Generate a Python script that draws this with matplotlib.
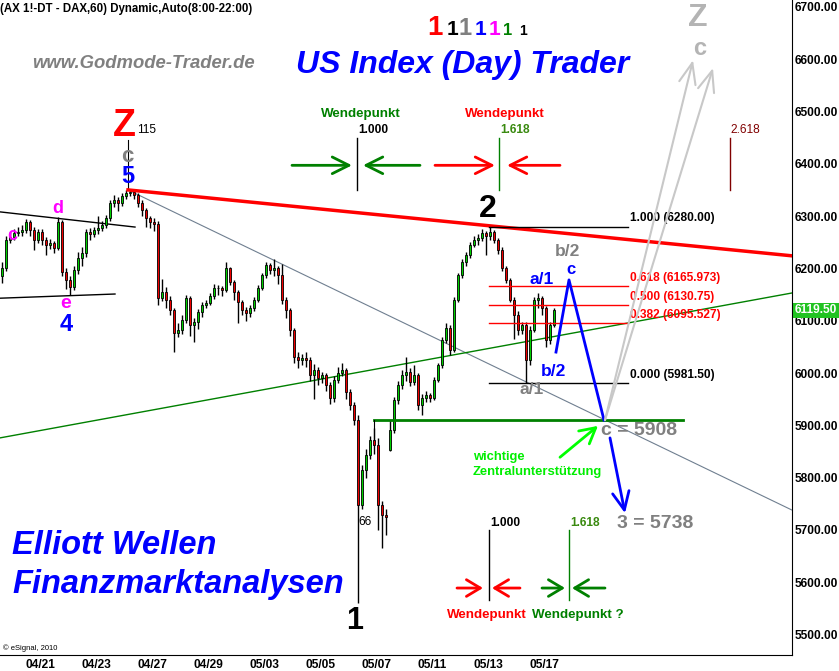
import numpy as np
import matplotlib
matplotlib.use("Agg")
import matplotlib.pyplot as plt

plt.rcParams['font.family'] = ['Liberation Sans', 'DejaVu Sans']

# 2-Stunden-Kerzen (7 pro Handelstag, 8:00-22:00), 19.04. - 17.05.2010
closes = [6200, 6255, 6260, 6268, 6270, 6273, 6289,
          6273, 6254, 6270, 6254, 6245, 6248, 6239,
          6289, 6193, 6178, 6164, 6197, 6220, 6229,
          6270, 6266, 6273, 6277, 6283, 6296, 6325,
          6331, 6325, 6338, 6344, 6346, 6340, 6325,
          6311, 6296, 6289, 6285, 6143, 6155, 6140,
          6120, 6076, 6082, 6101, 6143, 6092, 6097,
          6117, 6130, 6134, 6147, 6162, 6162, 6159,
          6200, 6174, 6155, 6136, 6120, 6115, 6124,
          6140, 6162, 6187, 6206, 6197, 6200, 6187,
          6140, 6120, 6082, 6031, 6025, 6029, 6025,
          5996, 6006, 5990, 5996, 5977, 5952, 5987,
          6000, 6006, 5964, 5939, 5910, 5748, 5815,
          5843, 5872, 5862, 5748, 5729, 5725, 5891,
          5948, 5977, 5996, 6002, 5983, 5996, 5939,
          5952, 5958, 5952, 5987, 6015, 6063, 6086,
          6044, 6140, 6187, 6212, 6225, 6245, 6254,
          6258, 6268, 6262, 6270, 6254, 6235, 6200,
          6178, 6140, 6111, 6082, 6092, 6025, 6082,
          6140, 6143, 6124, 6063, 6092, 6120]
highs = [6212, 6262, 6270, 6276, 6280, 6282, 6295,
         6292, 6280, 6276, 6275, 6260, 6256, 6252,
         6298, 6292, 6200, 6185, 6205, 6232, 6240,
         6276, 6278, 6280, 6300, 6290, 6302, 6330,
         6340, 6336, 6345, 6350, 6352, 6350, 6345,
         6330, 6315, 6300, 6296, 6290, 6180, 6165,
         6148, 6125, 6095, 6110, 6150, 6148, 6105,
         6122, 6136, 6140, 6152, 6170, 6168, 6166,
         6212, 6203, 6178, 6158, 6140, 6126, 6130,
         6146, 6168, 6192, 6212, 6210, 6218, 6204,
         6208, 6146, 6125, 6086, 6040, 6036, 6040,
         6030, 6018, 6012, 6002, 6000, 5982, 5995,
         6012, 6020, 6010, 5970, 5945, 5920, 5825,
         5855, 5880, 5895, 5875, 5755, 5740, 5910,
         5955, 5985, 6005, 6030, 6010, 6015, 6000,
         5960, 5966, 5962, 5992, 6020, 6068, 6095,
         6092, 6145, 6192, 6218, 6232, 6250, 6262,
         6266, 6275, 6272, 6280, 6274, 6258, 6240,
         6205, 6182, 6145, 6118, 6098, 6098, 6090,
         6145, 6153, 6148, 6128, 6098, 6125]
lows = [6172, 6195, 6248, 6255, 6262, 6262, 6268,
        6262, 6235, 6248, 6245, 6225, 6238, 6230,
        6235, 6185, 6160, 6150, 6158, 6190, 6205,
        6222, 6255, 6260, 6266, 6272, 6278, 6290,
        6318, 6310, 6320, 6332, 6338, 6332, 6318,
        6300, 6280, 6278, 6272, 6130, 6138, 6125,
        6110, 6040, 6068, 6075, 6095, 6070, 6060,
        6085, 6108, 6124, 6130, 6142, 6150, 6148,
        6155, 6168, 6140, 6095, 6110, 6100, 6108,
        6118, 6135, 6158, 6182, 6190, 6186, 6170,
        6132, 6105, 6070, 6020, 6010, 6015, 6012,
        5985, 5950, 5978, 5980, 5965, 5940, 5945,
        5980, 5995, 5950, 5930, 5900, 5560, 5740,
        5800, 5835, 5845, 5700, 5666, 5690, 5850,
        5885, 5940, 5970, 5985, 5975, 5978, 5930,
        5920, 5945, 5944, 5948, 5982, 6010, 6058,
        6035, 6040, 6135, 6182, 6205, 6220, 6240,
        6245, 6252, 6225, 6255, 6248, 6228, 6195,
        6172, 6135, 6065, 6072, 6075, 5981, 6015,
        6078, 6125, 6110, 6050, 6055, 6088]
first_open = 6185
gap_opens = {97: 5853}   # Eroeffnungsluecke 10.05.

date_labels = ["04/21", "04/23", "04/27", "04/29", "05/03",
               "05/05", "05/07", "05/11", "05/13", "05/17"]
date_pos = [10, 24, 38, 52, 66, 80, 94, 108, 122, 136]
y_ticks = [5500, 5600, 5700, 5800, 5900, 6000, 6100, 6200, 6300, 6400, 6500, 6600, 6700]
last_price = 6119.50

fib_high = 6280.00
fib_low = 5981.50
fib_levels = [1.000, 0.618, 0.500, 0.382, 0.000]

W, H = 839, 671
fig = plt.figure(figsize=(W / 100, H / 100), dpi=100)
ax = fig.add_axes([0, 16 / H, 792 / W, 655 / H])
ax.set_xlim(0, 198)
ax.set_ylim(5461, 6713)

# Kerzen
x = np.arange(len(closes)) + 0.5
opens = [first_open] + closes[:-1]
for i, o in gap_opens.items():
    opens[i] = o
o_arr = np.array(opens, dtype=float)
c_arr = np.array(closes, dtype=float)
up = c_arr >= o_arr
ax.vlines(x, lows, highs, color='black', lw=1.0, zorder=4)
ax.bar(x, c_arr - o_arr, bottom=o_arr, width=0.72,
       color=np.where(up, '#00d000', '#f00000'), edgecolor='black', lw=0.6, zorder=5)

# Trendlinien
ax.plot([32, 198], [6350, 6224], color='#ff0000', lw=2.5, zorder=6)
ax.plot([32, 198], [6350, 5738], color='#6f7f90', lw=0.8, zorder=3)
ax.plot([0, 198], [5876, 6153], color='#008000', lw=1, zorder=3)
ax.plot([0, 33.75], [6308, 6279], color='black', lw=1, zorder=3)
ax.plot([0, 28.75], [6143, 6151], color='black', lw=1, zorder=3)
ax.plot([93.5, 170.75], [5910, 5910], color='#008000', lw=2, zorder=6)
ax.plot([93.5, 93.5], [5910, 5872], color='black', lw=0.8, zorder=6)
ax.plot([32, 32], [6350, 6445], color='black', lw=0.8, zorder=3)

# Fibonacci-Retracement
for lev in fib_levels:
    p = fib_low + lev * (fib_high - fib_low)
    col = 'black' if lev in (0.0, 1.0) else '#ff0000'
    ax.plot([122.25, 157], [p, p], color=col, lw=1, zorder=6)
    s = f"{p:.3f}"
    if s.endswith('0'):
        s = s[:-1]
    ax.text(157.5, p + 4, f"{lev:.3f} ({s})", color=col, fontsize=8.6,
            fontweight='bold', ha='left', va='bottom', zorder=7)


def arrow(tail, tip, color, lw=2, hl=0.6, hw=0.3):
    ax.annotate('', xy=tip, xytext=tail,
                arrowprops=dict(arrowstyle=f'->,head_length={hl},head_width={hw}',
                                color=color, lw=lw, shrinkA=0, shrinkB=0,
                                mutation_scale=20), zorder=8)


def label(xv, yv, s, size, color, ha='center', va='center', weight='bold'):
    ax.text(xv, yv, s, fontsize=size, color=color, fontweight=weight,
            ha=ha, va=va, zorder=9)


# Wendepunkte oben
ax.plot([89.25, 89.25], [6350, 6449], color='black', lw=1)
ax.plot([124.75, 124.75], [6350, 6449], color='#008000', lw=1)
ax.plot([182.5, 182.5], [6350, 6449], color='#800000', lw=1)
arrow((73, 6397), (88, 6397), '#008000')
arrow((105, 6397), (90.75, 6397), '#008000')
arrow((108.75, 6397), (123.75, 6397), '#ff0000')
arrow((140, 6397), (126.75, 6397), '#ff0000')
label(90.25, 6495, "Wendepunkt", 9.6, '#008000')
label(126.25, 6495, "Wendepunkt", 9.6, '#ff0000')
label(89.5, 6464, "1.000", 8.6, 'black', ha='left')
label(125, 6464, "1.618", 8.6, '#3a8a10', ha='left')
label(182.7, 6464, "2.618", 8.6, '#800000', ha='left', weight='normal')

# Wendepunkte unten
ax.plot([122.25, 122.25], [5566, 5700], color='black', lw=1)
ax.plot([142.25, 142.25], [5566, 5700], color='#008000', lw=1)
arrow((114.25, 5589), (120.75, 5589), '#ff0000', hl=0.5, hw=0.3)
arrow((130, 5589), (123, 5589), '#ff0000', hl=0.5, hw=0.3)
arrow((135.5, 5589), (141.25, 5589), '#008000', hl=0.5, hw=0.3)
arrow((151.25, 5589), (143, 5589), '#008000', hl=0.5, hw=0.3)
label(122.5, 5713, "1.000", 8.6, 'black', ha='left')
label(142.5, 5713, "1.618", 8.6, '#3a8a10', ha='left')
label(121.75, 5538, "Wendepunkt", 9.6, '#ff0000')
label(144.5, 5538, "Wendepunkt ?", 9.6, '#008000')

# Wellenzaehlung
label(31, 6472, "Z", 27, '#ff0000')
label(34.3, 6464, "115", 8.6, 'black', ha='left', weight='normal')
label(31.75, 6414, "c", 16, '#808080')
label(32, 6375, "5", 17, '#0000ff')
label(14.5, 6315, "d", 13, '#ff00ff')
label(16.5, 6132, "e", 14, '#ff00ff')
label(16.5, 6092, "4", 17, '#0000ff')
label(3, 6262, "c", 13, '#ff00ff')
label(122, 6313, "2", 23, 'black')
label(88.75, 5526, "1", 22, 'black')
label(89.5, 5715, "66", 8.6, 'black', ha='left', weight='normal')
label(142, 6233, "b/2", 12.5, '#808080')
label(135.5, 6178, "a/1", 12.5, '#0000ff')
label(142.75, 6198, "c", 12, '#0000ff')
label(138.25, 6002, "b/2", 12.5, '#0000ff')
label(133, 5968, "a/1", 12.5, '#808080')
label(150.25, 5891, "c = 5908", 14, '#808080', ha='left')
label(154.25, 5713, "3 = 5738", 14, '#808080', ha='left')
label(118.25, 5839, "wichtige", 9.4, '#00ee00', ha='left')
label(118.25, 5811, "Zentralunterstützung", 9.4, '#00ee00', ha='left')
label(174.5, 6678, "Z", 23, '#b4b4b4')
label(175, 6620, "c", 17, '#b4b4b4')

# Erwarteter Verlauf
ax.plot([139, 142.25, 151], [6040, 6178, 5910], color='#0000ff', lw=2, zorder=8)
arrow((152.5, 5876), (156.25, 5732), '#0000ff', hl=0.65, hw=0.3)
arrow((140, 5839), (149.5, 5899), '#00ff00', hl=0.55, hw=0.3)
arrow((151.25, 5910), (173.25, 6598), '#c8c8c8', lw=1.5, hl=0.75, hw=0.3)
arrow((151.25, 5910), (178.25, 6583), '#c8c8c8', lw=1.5, hl=0.75, hw=0.3)

# Achsen
for side in ('left', 'top'):
    ax.spines[side].set_visible(False)
ax.spines['right'].set_color('black')
ax.spines['bottom'].set_color('black')
ax.yaxis.tick_right()
ax.set_yticks(y_ticks)
ax.set_yticklabels([f"{v:.2f}" for v in y_ticks])
ax.set_xticks(date_pos)
ax.set_xticklabels(date_labels)
ax.tick_params(axis='both', length=0, labelsize=8.6, colors='black')
ax.tick_params(axis='y', pad=2)
ax.tick_params(axis='x', pad=3)
for t in ax.get_xticklabels() + ax.get_yticklabels():
    t.set_fontweight('bold')
ax.annotate(f"{last_price:.2f}", xy=(1, last_price), xycoords=('axes fraction', 'data'),
            xytext=(2, 0), textcoords='offset points', ha='left', va='center',
            fontsize=8.6, fontweight='bold', color='white',
            bbox=dict(boxstyle='square,pad=0.15', fc='#22c322', ec='none'))

# Beschriftungen ausserhalb der Daten
def ftext(px, py, s, **kw):
    fig.text(px / W, 1 - py / H, s, **kw)


ftext(0, 9, "(AX 1!-DT - DAX,60) Dynamic,Auto(8:00-22:00)", fontsize=8.3,
      fontweight='bold', ha='left', va='center')
ftext(143, 64, "www.Godmode-Trader.de", fontsize=13.3, fontweight='bold',
      fontstyle='italic', color='#808080', ha='center', va='center')
ftext(463, 65, "US Index (Day) Trader", fontsize=23, fontweight='bold',
      fontstyle='italic', color='#0000ff', ha='center', va='center')
ftext(12, 545, "Elliott Wellen", fontsize=23.5, fontweight='bold',
      fontstyle='italic', color='#0000ff', ha='left', va='center')
ftext(12, 585, "Finanzmarktanalysen", fontsize=23.5, fontweight='bold',
      fontstyle='italic', color='#0000ff', ha='left', va='center')
ftext(3, 648, "© eSignal, 2010", fontsize=5.5, ha='left', va='center')

ones_x = [435, 452, 465, 480, 495, 508, 523]
ones_size = [20, 15, 17, 15, 15, 12, 10]
ones_color = ['#ff0000', 'black', '#808080', '#0000ff', '#ff00ff', '#008000', 'black']
for px_, sz, col in zip(ones_x, ones_size, ones_color):
    ftext(px_, 35, "1", fontsize=sz, fontweight='bold', color=col,
          ha='center', va='baseline')

fig.savefig("out.png", dpi=100)
